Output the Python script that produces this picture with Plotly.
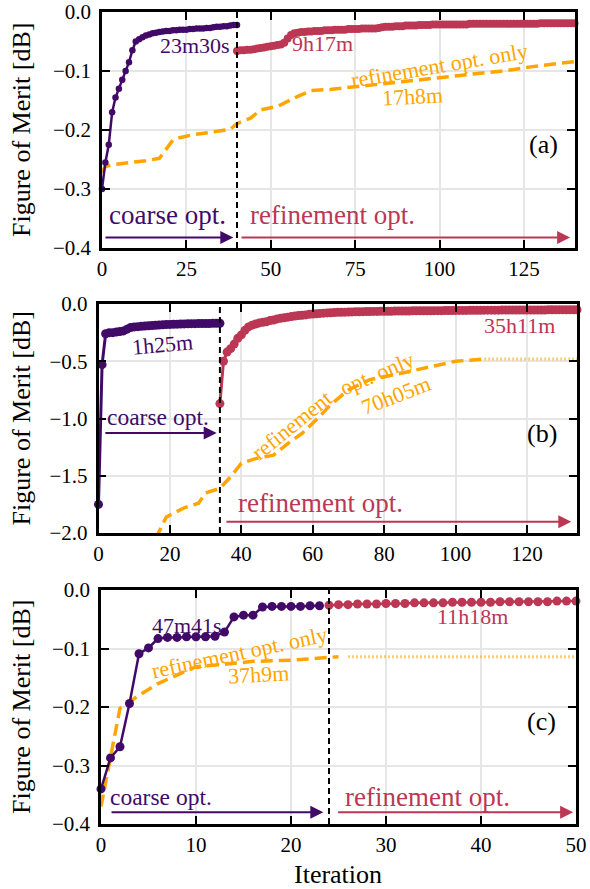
import plotly.graph_objects as go

PURPLE = "#420a68"
RED = "#bc3754"
ORANGE = "#ffa500"
ORANGE_LIGHT = "rgba(255,165,0,0.55)"
FONT = "Liberation Serif"

# ---------------- Panel (a) ----------------
a_coarse_x = list(range(0, 41))
a_coarse_y = [-0.300, -0.255, -0.225, -0.170, -0.145, -0.130, -0.115, -0.100, -0.085, -0.065,
              -0.050, -0.046, -0.043, -0.040, -0.038, -0.036, -0.035, -0.034, -0.033, -0.032,
              -0.032, -0.031, -0.031, -0.030, -0.030, -0.030, -0.029, -0.029, -0.028, -0.028,
              -0.028, -0.027, -0.027, -0.026, -0.025, -0.025, -0.024, -0.024, -0.023, -0.022,
              -0.022]
a_refine_x = list(range(40, 141))
a_refine_y = [-0.066, -0.065, -0.065, -0.064, -0.064, -0.063, -0.062, -0.061, -0.060, -0.059,
              -0.058, -0.057, -0.056, -0.055, -0.052, -0.045, -0.039, -0.036, -0.035, -0.034,
              -0.034, -0.033, -0.033, -0.032, -0.032, -0.032, -0.031, -0.031, -0.031, -0.030,
              -0.030, -0.030, -0.030, -0.029, -0.029, -0.029, -0.029, -0.028, -0.028, -0.028,
              -0.028, -0.028, -0.027, -0.026, -0.025, -0.025, -0.025, -0.024, -0.024, -0.024,
              -0.023, -0.023, -0.023, -0.023, -0.022, -0.022, -0.022, -0.022, -0.021, -0.021,
              -0.021, -0.021, -0.021, -0.021, -0.021, -0.021, -0.021, -0.021, -0.021, -0.020,
              -0.020, -0.020, -0.020, -0.020, -0.020, -0.020, -0.020, -0.020, -0.020, -0.020,
              -0.020, -0.020, -0.020, -0.020, -0.020, -0.020, -0.020, -0.020, -0.020, -0.020,
              -0.019, -0.019, -0.019, -0.019, -0.019, -0.019, -0.019, -0.019, -0.019, -0.019,
              -0.019]
a_only_x = [0, 1, 3, 8, 13, 17, 19, 21, 23, 27, 32, 38, 40, 44, 47, 52, 58, 62, 68, 76, 86, 98,
            110, 120, 127, 135, 140]
a_only_y = [-0.272, -0.262, -0.259, -0.256, -0.252, -0.248, -0.232, -0.217, -0.213, -0.208,
            -0.204, -0.199, -0.189, -0.180, -0.166, -0.160, -0.143, -0.133, -0.131, -0.126,
            -0.121, -0.113, -0.105, -0.099, -0.093, -0.088, -0.084]
a_switch = 40

# ---------------- Panel (b) ----------------
b_coarse_x = list(range(0, 35))
b_coarse_y = [-1.75, -0.53, -0.26, -0.25, -0.25, -0.245, -0.24, -0.235, -0.22, -0.205,
              -0.200, -0.198, -0.195, -0.193, -0.190, -0.188, -0.186, -0.184, -0.182, -0.180,
              -0.178, -0.177, -0.176, -0.175, -0.174, -0.173, -0.172, -0.172, -0.171, -0.171,
              -0.170, -0.170, -0.169, -0.169, -0.168]
b_refine_x = list(range(34, 135))
b_refine_y = [-0.87, -0.50, -0.42, -0.39, -0.35, -0.30, -0.27, -0.23, -0.20, -0.185,
              -0.175, -0.165, -0.160, -0.155, -0.145, -0.140, -0.130, -0.125, -0.120, -0.115,
              -0.110, -0.105, -0.100, -0.098, -0.095, -0.090, -0.088, -0.085, -0.082, -0.080,
              -0.078, -0.076, -0.075, -0.073, -0.072, -0.071, -0.070, -0.069, -0.068, -0.068,
              -0.067, -0.066, -0.066, -0.065, -0.065, -0.064, -0.064, -0.063, -0.063, -0.062,
              -0.062, -0.061, -0.061, -0.061, -0.060, -0.060, -0.060, -0.059, -0.059, -0.059,
              -0.058, -0.058, -0.058, -0.057, -0.057, -0.057, -0.056, -0.056, -0.056, -0.056,
              -0.055, -0.055, -0.055, -0.055, -0.054, -0.054, -0.054, -0.054, -0.054, -0.053,
              -0.053, -0.053, -0.053, -0.053, -0.053, -0.052, -0.052, -0.052, -0.052, -0.052,
              -0.052, -0.052, -0.051, -0.051, -0.051, -0.051, -0.051, -0.051, -0.051, -0.050,
              -0.050]
b_only_x = [16, 19, 24, 28, 30, 34, 37, 40, 44, 49, 53, 57, 62, 65, 70, 76, 84, 93, 100, 108]
b_only_y = [-2.05, -1.86, -1.78, -1.74, -1.65, -1.61, -1.51, -1.39, -1.35, -1.32, -1.22, -1.13,
            -0.98, -0.88, -0.75, -0.66, -0.61, -0.55, -0.50, -0.48]
b_only_ext_x = [108, 134]
b_only_ext_y = [-0.48, -0.48]
b_switch = 34

# ---------------- Panel (c) ----------------
c_coarse_x = list(range(0, 24))
c_coarse_y = [-0.340, -0.287, -0.268, -0.194, -0.109, -0.099, -0.083, -0.081, -0.081, -0.080,
              -0.080, -0.080, -0.079, -0.072, -0.046, -0.043, -0.043, -0.029, -0.028, -0.028,
              -0.028, -0.028, -0.027, -0.027]
c_refine_x = list(range(24, 51))
c_refine_y = [-0.026, -0.025, -0.025, -0.024, -0.024, -0.024, -0.023, -0.023, -0.023, -0.022,
              -0.022, -0.022, -0.022, -0.021, -0.021, -0.021, -0.021, -0.021, -0.020, -0.020,
              -0.020, -0.020, -0.020, -0.020, -0.019, -0.019, -0.019]
c_only_x = [0, 1, 2, 3, 4, 6, 8, 10, 13, 16, 20, 23, 25]
c_only_y = [-0.370, -0.285, -0.202, -0.191, -0.180, -0.160, -0.145, -0.131, -0.127, -0.122,
            -0.120, -0.116, -0.114]
c_only_ext_x = [26, 50]
c_only_ext_y = [-0.114, -0.114]
c_switch = 24

x_ticks = {"a": [0, 25, 50, 75, 100, 125], "b": [0, 20, 40, 60, 80, 100, 120],
           "c": [0, 10, 20, 30, 40, 50]}

fig = go.Figure()


def add_panel(k, only_x, only_y, ext_x, ext_y, cx, cy, rx, ry, msize_c, msize_r, lw):
    xa = "x" if k == 1 else f"x{k}"
    ya = "y" if k == 1 else f"y{k}"
    fig.add_trace(go.Scatter(x=only_x, y=only_y, mode="lines", xaxis=xa, yaxis=ya,
                             line=dict(color=ORANGE, width=3.5, dash="12px,6px"),
                             showlegend=False))
    if ext_x:
        fig.add_trace(go.Scatter(x=ext_x, y=ext_y, mode="lines", xaxis=xa, yaxis=ya,
                                 line=dict(color=ORANGE_LIGHT, width=3, dash="2px,2px"),
                                 showlegend=False))
    fig.add_trace(go.Scatter(x=cx, y=cy, mode="lines+markers", xaxis=xa, yaxis=ya,
                             line=dict(color=PURPLE, width=lw),
                             marker=dict(color=PURPLE, size=msize_c),
                             showlegend=False, cliponaxis=False))
    fig.add_trace(go.Scatter(x=rx, y=ry, mode="lines+markers", xaxis=xa, yaxis=ya,
                             line=dict(color=RED, width=lw),
                             marker=dict(color=RED, size=msize_r),
                             showlegend=False, cliponaxis=False))


add_panel(1, a_only_x, a_only_y, None, None, a_coarse_x, a_coarse_y, a_refine_x, a_refine_y, 6.5, 8, 2.5)
add_panel(2, b_only_x, b_only_y, b_only_ext_x, b_only_ext_y, b_coarse_x, b_coarse_y, b_refine_x, b_refine_y, 9, 9, 3)
add_panel(3, c_only_x, c_only_y, c_only_ext_x, c_only_ext_y, c_coarse_x, c_coarse_y, c_refine_x, c_refine_y, 9, 9, 2.5)

W, H = 590, 889
doms = {
    1: dict(x=[102 / W, 574.5 / W], y=[1 - 248 / H, 1 - 12 / H], xr=[0, 140], yr=[-0.4, 0], dt=0.1, xt=x_ticks["a"]),
    2: dict(x=[98.5 / W, 577 / W], y=[1 - 533 / H, 1 - 304 / H], xr=[0, 134], yr=[-2.0, 0], dt=0.5, xt=x_ticks["b"]),
    3: dict(x=[101 / W, 576 / W], y=[1 - 824 / H, 1 - 590 / H], xr=[0, 50], yr=[-0.4, 0], dt=0.1, xt=x_ticks["c"]),
}
axis_common = dict(showline=True, linecolor="black", linewidth=2.5, mirror="ticks",
                   ticks="inside", ticklen=8, tickwidth=2, tickcolor="black",
                   showgrid=True, gridcolor="#e6e6e6", gridwidth=1.5, zeroline=False,
                   automargin=False,
                   tickfont=dict(family=FONT, size=21, color="black"))
layout = {}
for k, d in doms.items():
    xn = "xaxis" if k == 1 else f"xaxis{k}"
    yn = "yaxis" if k == 1 else f"yaxis{k}"
    ya = "y" if k == 1 else f"y{k}"
    xa = "x" if k == 1 else f"x{k}"
    layout[xn] = dict(domain=d["x"], range=d["xr"], anchor=ya, tickvals=d["xt"], **axis_common)
    layout[yn] = dict(domain=d["y"], range=d["yr"], anchor=xa, dtick=d["dt"], tick0=0,
                      tickformat=".1f", ticklabelstandoff=4, **axis_common)
fig.update_layout(**layout)

# dashed switch lines
for k, sx in [(1, a_switch), (2, b_switch), (3, c_switch)]:
    xa = "x" if k == 1 else f"x{k}"
    ya = "y" if k == 1 else f"y{k}"
    fig.add_shape(type="line", xref=xa, yref=f"{ya} domain", x0=sx, x1=sx, y0=0, y1=1,
                  line=dict(color="black", width=2, dash="6px,4px"), layer="above")

ann = []


def txt(k, x, y, s, color, size, angle=0):
    xa = "x" if k == 1 else f"x{k}"
    ya = "y" if k == 1 else f"y{k}"
    ann.append(dict(x=x, y=y, xref=xa, yref=ya, text=s, showarrow=False, textangle=angle,
                    xanchor="center", yanchor="middle",
                    font=dict(family=FONT, size=size, color=color)))


def arrow(k, x0, x1, y, color):
    xa = "x" if k == 1 else f"x{k}"
    ya = "y" if k == 1 else f"y{k}"
    ann.append(dict(x=x1, y=y, ax=x0, ay=y, xref=xa, yref=ya, axref=xa, ayref=ya, text="",
                    showarrow=True, arrowhead=2, arrowsize=1.3, arrowwidth=2,
                    arrowcolor=color, standoff=0, startstandoff=0))


# panel a
txt(1, 27.6, -0.0576, "23m30s", PURPLE, 22)
txt(1, 65.2, -0.054, "9h17m", RED, 22)
txt(1, 99.9, -0.0915, "refinement opt. only", ORANGE, 22, -9.6)
txt(1, 91.9, -0.144, "17h8m", ORANGE, 22, -3)
txt(1, 130.7, -0.225, "(a)", "black", 26)
txt(1, 19.3, -0.344, "coarse opt.", PURPLE, 27)
txt(1, 68.4, -0.344, "refinement opt.", RED, 27)
arrow(1, 0.6, 38.9, -0.382, PURPLE)
arrow(1, 40.9, 138.7, -0.382, RED)
# panel b
txt(2, 54.0, -1.06, "refinement", ORANGE, 22, -39)
txt(2, 78.0, -0.61, "opt. only", ORANGE, 22, -23)
txt(2, 18.0, -0.358, "1h25m", PURPLE, 22, -5)
txt(2, 117.9, -0.192, "35h11m", RED, 22)
txt(2, 83.2, -0.80, "70h05m", ORANGE, 22, -21)
txt(2, 124.3, -1.127, "(b)", "black", 26)
txt(2, 16.8, -0.987, "coarse opt.", PURPLE, 23.5)
txt(2, 62.2, -1.738, "refinement opt.", RED, 27)
arrow(2, 1.5, 33.1, -1.127, PURPLE)
arrow(2, 35.4, 132.4, -1.901, RED)
# panel c
txt(3, 9.0, -0.060, "47m41s", PURPLE, 22)
txt(3, 14.6, -0.107, "refinement opt. only", ORANGE, 22, -12)
txt(3, 16.6, -0.1436, "37h9m", ORANGE, 22, -3)
txt(3, 39.1, -0.0456, "11h18m", RED, 22)
txt(3, 46.4, -0.225, "(c)", "black", 26)
txt(3, 6.3, -0.354, "coarse opt.", PURPLE, 23.5)
txt(3, 34.4, -0.354, "refinement opt.", RED, 27)
arrow(3, 0.95, 23.4, -0.380, PURPLE)
arrow(3, 24.8, 49.7, -0.380, RED)

# axis titles
for yc in [130, 418.5, 707]:
    ann.append(dict(x=21 / W, y=1 - yc / H, xref="paper", yref="paper", text="Figure of Merit [dB]",
                    showarrow=False, textangle=-90, xanchor="center", yanchor="middle",
                    font=dict(family=FONT, size=26, color="black")))
ann.append(dict(x=338 / W, y=1 - 874 / H, xref="paper", yref="paper", text="Iteration",
                showarrow=False, xanchor="center", yanchor="middle",
                font=dict(family=FONT, size=26, color="black")))

fig.update_layout(annotations=ann, width=W, height=H, margin=dict(l=0, r=0, t=0, b=0),
                  plot_bgcolor="white", paper_bgcolor="white", showlegend=False)
fig.write_html("out.html")
